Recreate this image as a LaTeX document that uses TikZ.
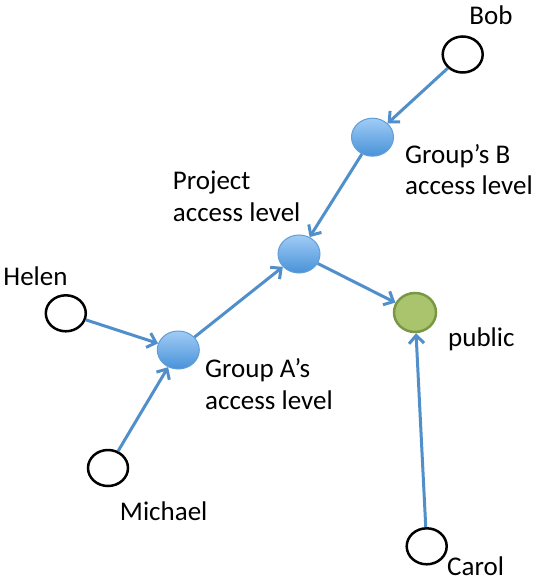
\documentclass[tikz,border=0pt]{standalone}
\usepackage{fontspec}
\setmainfont{Carlito}
\usetikzlibrary{shapes.geometric,arrows.meta}
\definecolor{arrowblue}{RGB}{80,143,202}
\definecolor{bluetop}{RGB}{160,204,246}
\definecolor{bluebot}{RGB}{72,146,216}
\definecolor{blueedge}{RGB}{98,158,214}
\definecolor{greenfill}{RGB}{170,196,110}
\definecolor{greenedge}{RGB}{122,152,68}
\tikzset{
  person/.style={ellipse, draw=black, line width=2.5pt, fill=white, minimum width=40pt, minimum height=36pt, inner sep=0pt},
  level/.style={ellipse, draw=blueedge, line width=1pt, top color=bluetop, bottom color=bluebot, minimum width=42pt, minimum height=38pt, inner sep=0pt},
  pub/.style={ellipse, draw=greenedge, line width=2.5pt, fill=greenfill, minimum width=42pt, minimum height=39pt, inner sep=0pt},
  lbl/.style={inner sep=0pt, align=left, font=\fontsize{27}{31.5}\selectfont},
  conn/.style={draw=arrowblue, line width=3pt, -{Straight Barb[length=8pt,width=15pt]}},
}
\begin{document}
\begin{tikzpicture}[x=1pt,y=-1pt]
\useasboundingbox (0,0) rectangle (542,588);
\node[person] (bob) at (462.7,54.5) {};
\node[level] (gb) at (372.5,137.2) {};
\node[level] (proj) at (299,254) {};
\node[person] (helen) at (65.8,313.3) {};
\node[level] (ga) at (178.3,350) {};
\node[person] (michael) at (108,468) {};
\node[pub] (public) at (415,312.5) {};
\node[person] (carol) at (426.7,546.3) {};

\node[lbl, anchor=base] (bobl) at (491,24.3) {Bob};
\node[lbl, anchor=base] (helenl) at (35.5,285) {Helen};
\node[lbl, anchor=base] (michaell) at (163.7,520.7) {Michael};
\node[lbl, anchor=base west] (publicl) at (448,346) {public};
\node[lbl, anchor=base west] (caroll) at (447,575) {Carol};
\node[lbl, anchor=base west] (gbl) at (405,194.5) {Group’s B\\access level};
\node[lbl, anchor=base west] (projl) at (172.7,221) {Project\\access level};
\node[lbl, anchor=base west] (gal) at (205,409) {Group A’s\\access level};

\draw[conn] (bob) -- (gb);
\draw[conn] (gb) -- (proj);
\draw[conn] (helen) -- (ga);
\draw[conn] (michael) -- (ga);
\draw[conn] (ga) -- (proj);
\draw[conn] (proj) -- (public);
\draw[conn] (carol) -- (public);
\end{tikzpicture}
\end{document}
